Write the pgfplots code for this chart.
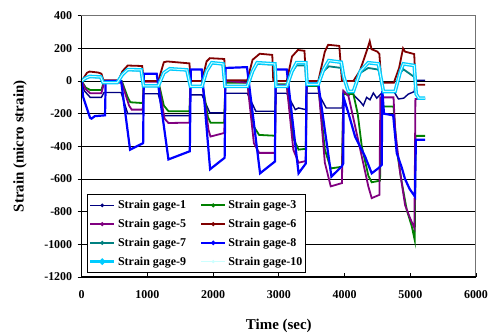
\documentclass[border=0pt]{standalone}
\usepackage{fontspec}
\setmainfont{Liberation Serif}
\usepackage{pgfplots}
\pgfplotsset{compat=1.18}
\definecolor{gA}{RGB}{0,0,128}
\definecolor{gC}{RGB}{0,128,0}
\definecolor{gE}{RGB}{128,0,128}
\definecolor{gF}{RGB}{128,0,0}
\definecolor{gG}{RGB}{0,128,128}
\definecolor{gH}{RGB}{0,0,255}
\definecolor{gI}{RGB}{0,204,255}
\definecolor{gJ}{RGB}{204,255,255}
\begin{document}
\begin{tikzpicture}
\begin{axis}[
  scale only axis, width=394.3bp, height=261.3bp,
  xmin=0, xmax=6000, ymin=-1200, ymax=400,
  xtick={0,1000,...,6000}, ytick={-1200,-1000,...,400},
  xtick pos=bottom, ytick pos=left,
  ymajorgrids, grid style={black, line width=0.6bp},
  tick align=outside, major tick length=4bp,
  tick style={black, line width=0.8bp},
  xtick style={yshift=4bp},
  /pgf/number format/assume math mode=true,
  /pgf/number format/set thousands separator={},
  ticklabel style={font=\fontsize{12}{14}\selectfont\bfseries},
  xticklabel style={yshift=-6bp},
  yticklabel style={xshift=-2bp},
  axis line style={draw=black!55, line width=1bp},
  xlabel={Time (sec)}, ylabel={Strain (micro strain)},
  label style={font=\fontsize{15}{17}\selectfont\bfseries},
  xlabel style={at={(axis description cs:0.5,-0.1875)}, anchor=center},
  ylabel style={at={(axis description cs:-0.1565,0.5)}, anchor=center},
  clip=false,
  legend columns=2, legend cell align=left,
  legend image code/.code={\draw[#1] (0bp,0bp) -- (24bp,0bp); \fill[#1] (12bp,0bp) circle (1bp);},
  legend style={at={(rel axis cs:0.0134,0.0153)}, anchor=south west, draw=black, line width=1bp, fill=white,
    font=\fontsize{12}{14}\selectfont\bfseries, inner xsep=1bp, inner ysep=4bp, row sep=5bp,
    /tikz/every even column/.append style={column sep=12bp}},
]
% gage 1
\addplot[gA, line width=1.4bp] coordinates {
(0,0) (40,-60) (130,-100) (300,-100) (340,-70) (600,-70) (700,-200) (930,-200) (945,-78) (1165,-78)
(1250,-212) (1640,-212) (1655,-85) (1830,-85) (1950,-195) (2170,-195) (2185,-75) (2520,-75)
(2650,-185) (2940,-185) (2955,-75) (3120,-75) (3250,-175) (3300,-165) (3410,-175) (3420,-75) (3600,-75)
(3720,-165) (3965,-165) (3982,-73) (4058,-90) (4110,-70) (4160,-95) (4236,-125) (4286,-150) (4336,-100)
(4387,-115) (4438,-73) (4490,-105) (4540,-85) (4591,-64) (4750,-64) (4820,-110) (4900,-105) (4970,-80)
(5060,-65) (5080,5) (5225,5)};
\addlegendentry{Strain gage-1}
% gage 3
\addplot[gC, line width=1.8bp] coordinates {
(0,0) (60,-40) (130,-55) (300,-55) (340,0) (610,0) (700,-100) (740,-130) (930,-135) (945,0) (1165,0)
(1250,-150) (1320,-185) (1640,-185) (1655,0) (1830,0) (1920,-220) (1960,-255) (2170,-255) (2185,-10)
(2520,-10) (2620,-280) (2700,-330) (2940,-335) (2955,-20) (3120,-20) (3220,-350) (3300,-420) (3410,-415)
(3424,-30) (3600,-30) (3700,-420) (3790,-535) (3960,-525) (3982,-80) (4134,-80) (4200,-200) (4262,-400)
(4362,-580) (4413,-620) (4540,-610) (4555,-156) (4745,-156) (4794,-420) (4870,-620) (4947,-790)
(5023,-890) (5068,-975) (5080,-336) (5225,-336)};
\addlegendentry{Strain gage-3}
% gage 5
\addplot[gE, line width=1.8bp] coordinates {
(0,0) (60,-50) (130,-75) (300,-75) (340,-10) (610,-10) (720,-150) (760,-175) (930,-175) (945,-5) (1165,-5)
(1260,-230) (1320,-257) (1640,-255) (1655,0) (1830,0) (1930,-300) (1960,-340) (2170,-318) (2185,0)
(2520,-10) (2620,-380) (2700,-440) (2940,-440) (2955,-25) (3120,-25) (3220,-420) (3300,-500) (3410,-490)
(3424,-20) (3600,-20) (3700,-500) (3790,-645) (3960,-625) (3982,-60) (4058,-90) (4262,-462) (4362,-646)
(4413,-717) (4530,-697) (4545,-100) (4745,-100) (4770,-300) (4845,-560) (4921,-760) (4997,-840)
(5063,-900) (5078,-110) (5225,-110)};
\addlegendentry{Strain gage-5}
% gage 6
\addplot[gF, line width=1.8bp] coordinates {
(0,0) (80,50) (120,58) (250,52) (300,45) (330,5) (560,5) (620,60) (700,95) (920,92) (945,0) (1165,0)
(1250,115) (1300,120) (1640,108) (1655,0) (1830,0) (1900,120) (1950,140) (2170,135) (2185,5) (2520,5)
(2600,130) (2709,167) (2900,160) (2915,0) (3120,0) (3200,150) (3290,190) (3390,185) (3415,0) (3600,0)
(3700,180) (3750,222) (3920,215) (3960,0) (4134,0) (4230,60) (4300,140) (4350,200) (4383,243) (4410,195)
(4500,180) (4530,165) (4560,-10) (4750,-10) (4830,80) (4890,200) (4920,180) (5060,165) (5080,-23) (5225,-23)};
\addlegendentry{Strain gage-6}
% gage 7
\addplot[gG, line width=1.8bp] coordinates {
(0,0) (60,15) (120,25) (290,22) (325,-12) (540,-12) (620,38) (700,66) (905,65) (940,-32) (1165,-32)
(1250,48) (1340,72) (1600,66) (1655,-35) (1830,-35) (1900,58) (1980,108) (2150,102) (2180,-35) (2520,-35)
(2600,58) (2670,105) (2940,100) (2957,-35) (3120,-35) (3200,55) (3270,95) (3410,95) (3430,-22) (3600,-22)
(3680,60) (3760,90) (3950,80) (3985,20) (4058,-66) (4134,-66) (4240,50) (4360,80) (4515,70) (4591,-66)
(4769,-66) (4850,50) (4895,72) (5060,25) (5090,-80) (5130,-105) (5225,-105)};
\addlegendentry{Strain gage-7}
% gage 8
\addplot[gH, line width=2.2bp] coordinates {
(0,0) (20,-95) (127,-225) (150,-230) (200,-215) (355,-210) (365,0) (600,0) (736,-420) (935,-380) (945,45)
(1141,45) (1320,-480) (1645,-430) (1660,70) (1826,70) (1954,-540) (2175,-470) (2190,80) (2515,85)
(2714,-565) (2940,-493) (2952,70) (3120,70) (3300,-565) (3410,-505) (3420,-15) (3600,-15) (3800,-585)
(3957,-523) (3980,-505) (3985,-100) (4058,-196) (4160,-340) (4236,-401) (4312,-462) (4413,-565)
(4515,-534) (4565,-514) (4575,-60) (4600,-200) (4740,-210) (4794,-441) (4870,-530) (4920,-600)
(4990,-661) (5072,-708) (5085,-360) (5225,-360)};
\addlegendentry{Strain gage-8}
% gage 9
\addplot[gI, line width=3.6bp] coordinates {
(0,0) (60,18) (120,28) (290,25) (325,-10) (540,-10) (620,40) (700,70) (905,68) (940,-30) (1165,-30)
(1250,50) (1340,75) (1600,68) (1655,-33) (1830,-33) (1900,60) (1980,112) (2150,105) (2180,-33) (2520,-33)
(2600,60) (2670,112) (2940,105) (2957,-33) (3120,-33) (3200,60) (3270,112) (3410,112) (3430,-20) (3600,-20)
(3680,70) (3760,125) (3950,115) (3985,30) (4058,-64) (4134,-64) (4240,60) (4360,112) (4515,105) (4591,-64)
(4769,-64) (4850,60) (4895,105) (5060,95) (5090,-80) (5130,-105) (5225,-105)};
\addlegendentry{Strain gage-9}
% gage 10
\addplot[gJ, line width=1bp] coordinates {
(0,0) (60,18) (120,28) (290,25) (325,-10) (540,-10) (620,40) (700,70) (905,68) (940,-30) (1165,-30)
(1250,50) (1340,75) (1600,68) (1655,-33) (1830,-33) (1900,60) (1980,112) (2150,105) (2180,-33) (2520,-33)
(2600,60) (2670,112) (2940,105) (2957,-33) (3120,-33) (3200,60) (3270,112) (3410,112) (3430,-20) (3600,-20)
(3680,70) (3760,125) (3950,115) (3985,30) (4058,-64) (4134,-64) (4240,60) (4360,112) (4515,105) (4591,-64)
(4769,-64) (4850,60) (4895,105) (5060,95) (5090,-80) (5130,-105) (5225,-105)};
\addlegendentry{Strain gage-10}
\draw[black, line width=1.6bp] (rel axis cs:0,1) -- (rel axis cs:0,0) -- (rel axis cs:1,0);
\end{axis}
\pgfresetboundingbox
\path[use as bounding box] (current axis.south west) ++(-81.7bp,-59bp) rectangle ++(489bp,336bp);
\end{tikzpicture}
\end{document}
